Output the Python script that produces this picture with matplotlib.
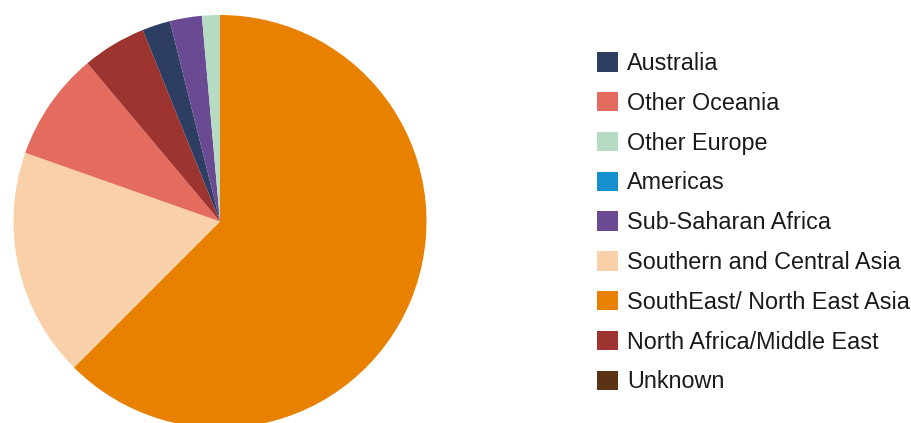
import matplotlib
matplotlib.use("Agg")
import matplotlib.pyplot as plt
from matplotlib.patches import Patch

categories = ["Australia", "Other Oceania", "Other Europe", "Americas",
              "Sub-Saharan Africa", "Southern and Central Asia",
              "SouthEast/ North East Asia", "North Africa/Middle East", "Unknown"]
shares = [2.2, 8.5, 1.4, 0.0, 2.5, 17.9, 62.5, 5.0, 0.0]
colors = ["#2e3e63", "#e46c5f", "#b5dcc3", "#168fcf", "#6a4b93",
          "#f9d0a7", "#e88100", "#9d3430", "#5b3314"]
# clockwise drawing order of the wedges starting at 12 o'clock
pie_order = [6, 5, 1, 7, 0, 4, 2]

plt.rcParams['font.family'] = ['Liberation Sans', 'DejaVu Sans']

W, H = 911, 423
fig = plt.figure(figsize=(W / 100, H / 100), dpi=100)

# pie axes placed in pixel coordinates
cx, cy, r = 220.0, 221.5, 206.5
ax = fig.add_axes([(cx - r) / W, (H - cy - r) / H, 2 * r / W, 2 * r / H])
ax.pie([shares[i] for i in pie_order],
       colors=[colors[i] for i in pie_order],
       startangle=90, counterclock=False, radius=1.0,
       wedgeprops=dict(linewidth=0))
ax.set_xlim(-1, 1)
ax.set_ylim(-1, 1)
ax.set_aspect('equal')
ax.axis('off')

handles = [Patch(facecolor=c, edgecolor='none') for c in colors]
fs = 16.8
leg = fig.legend(handles, categories, loc='upper left',
                 bbox_to_anchor=(596.5 / W, 1 - 52.0 / H),
                 frameon=False, fontsize=fs, borderpad=0, borderaxespad=0,
                 handlelength=0.9, handleheight=0.9, handletextpad=0.41,
                 labelspacing=0.72)
for t in leg.get_texts():
    t.set_color('#1a1a1a')

fig.savefig("out.png", dpi=100)
